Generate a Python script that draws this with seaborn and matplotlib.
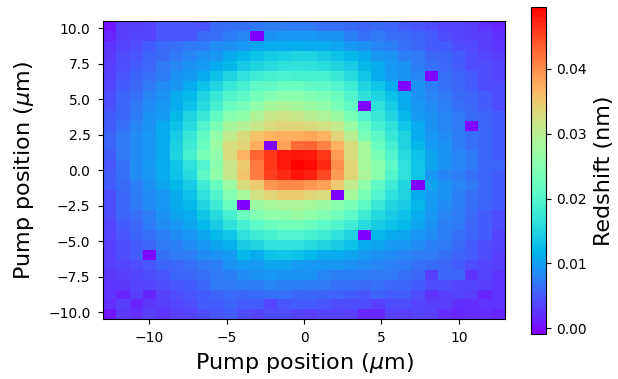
import numpy as np
import matplotlib
matplotlib.use("Agg")
import matplotlib.pyplot as plt
import seaborn as sns

# Scan extent (µm) and grid size
x_range = [-13.0, 13.0]
y_range = [-10.5, 10.5]
n_cols = 30
n_rows = 30

# Redshift per pump position, in pm (1e-3 nm); rows listed from top (y = +10.5) to bottom
redshift_pm = [
    [0.6, 3.1, 3.1, 3.6, 4.7, 4.7, 4.7, 4.5, 6.2, 6.4, 6.4, 7.0, 7.4, 7.4, 7.2, 7.0, 6.4, 6.4, 6.2, 5.7, 6.2, 5.7, 5.2, 4.7, 4.2, 3.6, 3.6, 3.1, 2.3, 1.6],
    [1.6, 3.1, 3.6, 3.6, 4.7, 4.7, 4.7, 6.2, 6.4, 7.2, 8.0, -0.9, 9.0, 9.5, 9.5, 9.5, 9.0, 9.0, 7.4, 6.4, 7.0, 6.4, 6.2, 5.7, 5.2, 4.2, 3.6, 3.1, 3.1, 2.3],
    [2.6, 3.6, 4.2, 5.2, 6.2, 6.4, 7.0, 7.2, 8.4, 9.0, 9.5, 10.5, 11.0, 11.0, 11.2, 11.0, 11.0, 10.5, 9.5, 9.0, 8.0, 7.4, 6.4, 6.0, 5.2, 5.2, 4.2, 3.9, 3.1, 2.6],
    [2.8, 4.2, 4.7, 5.7, 6.2, 7.0, 8.0, 9.0, 9.5, 10.8, 12.0, 13.0, 14.0, 14.3, 14.8, 14.8, 14.0, 13.0, 12.2, 11.0, 9.5, 9.0, 7.4, 7.0, 6.0, 5.7, 5.2, 4.2, 3.6, 3.1],
    [3.1, 4.2, 5.2, 6.0, 7.0, 8.0, 9.0, 9.7, 11.0, 12.2, 13.8, 14.8, 15.8, 16.3, 16.5, 16.3, 16.0, 14.8, 14.0, 12.2, 11.0, 9.5, 9.0, 7.2, 6.4, 6.0, 5.2, 4.2, 4.2, 3.6],
    [3.3, 4.7, 5.7, 6.4, 7.2, 9.0, 9.7, 11.0, 13.0, 14.8, 16.3, 18.0, 18.8, 19.2, 18.8, 18.8, 18.8, 17.3, 15.5, 13.5, 11.0, 9.7, 9.0, 8.0, -0.9, 6.4, 5.7, 5.2, 4.2, 3.6],
    [3.8, 5.2, 6.0, 7.0, 8.4, 9.5, 11.0, 13.0, 14.8, 17.3, 18.8, 20.8, 21.3, 22.3, 22.3, 21.3, 20.8, 19.8, 18.0, 14.8, 13.5, 11.0, -0.9, 9.0, 7.4, 6.4, 6.0, 5.2, 4.2, 4.2],
    [4.2, 5.7, 6.4, 8.0, 9.0, 11.0, 12.2, 14.8, 17.3, 20.0, 20.8, 23.1, 24.6, 25.4, 25.4, 24.6, 23.8, 22.3, 19.8, 16.3, 14.8, 13.0, 11.0, 9.0, 8.0, 7.0, 6.2, 5.7, 5.2, 4.2],
    [4.4, 5.7, 7.0, 8.4, 9.5, 11.0, 13.0, 15.5, 18.8, 22.3, 23.5, 26.1, 28.1, 28.9, 28.1, 27.1, 26.1, 23.8, 21.3, -0.9, 16.3, 14.0, 11.0, 9.5, 8.4, 7.4, 6.4, 6.0, 5.2, 4.2],
    [5.2, 6.0, 7.2, 9.0, 9.7, 12.2, 14.8, 17.3, 21.5, 25.0, 26.0, 28.9, 31.4, 32.0, 31.4, 29.9, 28.9, 27.1, 23.8, 19.8, 17.3, 14.8, 12.2, 9.7, 9.0, 8.0, 7.0, 6.2, 5.7, 5.2],
    [5.2, 6.4, 8.0, 9.0, 11.0, 13.0, 15.5, 19.8, 23.8, 28.1, 29.5, 31.4, 33.2, 34.0, 34.0, 33.2, 32.4, 30.7, 27.1, 22.3, 18.8, 16.3, 13.5, 11.0, 9.0, 8.0, 7.0, -0.9, 5.7, 5.2],
    [5.7, 7.0, 8.4, 9.5, 11.0, 14.0, 17.3, 21.5, 26.1, 30.7, 33.2, 35.7, 37.0, 37.5, 37.5, 38.0, 37.0, 34.0, 29.9, 23.8, 20.8, 17.3, 14.8, 11.0, 9.5, 8.4, 7.2, 6.4, 6.0, 5.2],
    [5.7, 7.0, 8.4, 9.5, 11.0, 14.5, 18.0, 22.3, 27.1, 33.0, 34.0, 37.5, -0.9, 38.5, 42.5, 43.0, 41.0, 37.0, 33.2, 28.1, 22.3, 18.8, 14.8, 12.2, 9.7, 9.0, 7.4, 6.4, 6.0, 5.2],
    [5.2, 7.0, 8.4, 9.5, 11.0, 14.8, 18.8, 23.8, 26.0, 33.2, 37.0, 43.0, 46.0, 48.0, 48.2, 48.0, 46.0, 39.0, 33.2, 28.1, 23.8, 19.8, 15.5, 13.0, 10.5, 9.0, 8.0, 7.0, 6.0, 5.2],
    [4.7, 6.4, 8.4, 9.7, 11.0, 13.5, 16.3, 19.8, 25.4, 31.4, 35.0, 41.5, 46.0, 48.0, 49.6, 49.0, 47.0, 40.0, 34.0, 28.1, 25.4, 20.8, 16.3, 13.5, 10.5, 9.0, 8.0, 7.0, 6.0, 5.7],
    [5.2, 6.4, 8.4, 9.5, 11.0, 13.0, 15.5, 20.8, 26.1, 31.4, 35.5, 41.5, 45.5, 47.0, 48.2, 47.5, 45.0, 39.0, 34.0, 28.9, 25.4, 19.8, 16.3, 13.5, 9.5, 8.0, 7.4, 6.4, 5.7, 5.2],
    [5.2, 6.2, 7.4, 9.0, 10.5, 12.2, 14.0, 18.0, 22.3, 27.1, 33.2, 35.0, 39.5, 40.5, 40.5, 39.5, 38.5, 35.0, 30.7, 26.1, 20.8, 18.0, 14.8, -0.9, 10.5, 9.0, 8.0, 7.0, 6.0, 5.2],
    [4.2, 6.0, 7.2, 8.4, 9.5, 11.0, 13.0, 16.3, 19.8, 24.6, 28.1, 32.4, 34.0, 35.0, 35.0, 34.0, 33.2, -0.9, 28.1, 23.8, 19.8, 16.3, 14.8, 11.0, 9.7, 9.0, 7.4, 6.4, 6.0, 5.2],
    [4.2, 6.0, 7.0, 8.4, 9.5, 11.0, 12.2, 14.8, 18.0, 22.3, -0.9, 27.1, 28.1, 28.9, 28.9, 28.1, 27.1, 25.4, 23.8, 20.8, 17.3, 14.8, 14.0, 12.2, 9.7, 8.4, 7.4, 6.4, 5.7, 5.2],
    [4.2, 5.7, 6.4, 7.4, 9.0, 10.5, 11.0, 13.5, 15.5, 18.8, 22.3, 24.6, 26.1, 26.1, 27.1, 26.1, 24.6, 23.1, 20.8, 18.0, 15.5, 14.0, 13.0, 11.0, 9.5, 8.0, 7.2, 6.2, 5.2, 4.2],
    [3.6, 5.2, 6.0, 7.2, 8.4, 9.5, 10.5, 12.2, 14.0, 16.3, 18.8, 20.8, 22.3, 23.1, 23.1, 22.3, 20.8, 19.8, 18.0, 15.5, 14.0, 13.0, 12.2, 10.5, 9.0, 7.4, 7.0, 6.0, 5.2, 4.2],
    [3.6, 4.7, 5.7, 6.4, 7.4, 8.4, 9.5, 10.5, 12.2, 13.5, 16.3, 18.0, 18.8, 19.8, 19.8, 18.8, 18.0, 16.3, 14.8, -0.9, 12.2, 11.0, 10.5, 9.5, 8.4, 7.4, 6.4, 5.7, 5.2, 3.6],
    [3.1, 4.2, 5.2, 6.0, 7.0, 7.4, 8.4, 9.5, 10.5, 11.5, 14.0, 14.8, 16.3, 16.3, 16.3, 15.5, 14.8, 14.0, 13.0, 11.0, 10.5, 9.7, 9.5, 8.4, 7.4, 7.0, 6.2, 5.2, 4.2, 3.6],
    [3.1, 4.2, 5.2, -0.9, 6.4, 7.0, 7.4, 8.4, 9.0, 9.7, 12.2, 11.0, 13.0, 13.5, 13.0, 12.2, 11.0, 11.0, 10.5, 9.7, 9.0, 8.4, 8.0, 7.4, 7.0, 6.4, 5.7, 5.2, 4.2, 3.1],
    [3.1, 3.6, 4.2, 4.7, 5.7, 6.0, 6.4, 7.0, 7.4, 9.0, 9.7, 9.7, 10.5, 10.5, 9.7, 9.5, 9.5, 9.5, 9.0, 8.4, 8.0, 7.4, 7.2, 6.4, 6.2, 6.0, 5.2, 4.2, 3.6, 3.1],
    [2.8, 3.1, 3.6, 4.2, 4.7, 5.7, 6.0, 6.4, 7.0, 7.4, 8.4, 9.0, 9.5, 9.0, 9.0, 9.0, 8.0, 7.4, 7.4, 7.2, 7.0, 7.0, 6.4, 6.0, 3.1, 6.0, 6.0, 2.3, 3.6, 2.6],
    [2.6, 2.8, 3.3, 3.6, 4.2, 4.7, 5.2, 6.0, 7.0, 7.0, 7.4, 7.2, 8.0, 7.4, 7.4, 7.2, 7.0, 6.4, 6.4, 6.2, 6.4, 6.0, 5.7, 5.2, 4.2, 4.2, 3.6, 3.6, 3.1, 2.6],
    [2.6, 1.6, 3.1, 1.6, 3.3, 4.2, 4.7, 5.2, 5.7, 6.2, 6.0, 6.2, 6.4, 6.4, 6.0, 6.0, 5.7, 5.7, 5.2, 4.7, 5.7, 5.2, 5.2, 4.2, 2.3, 3.1, 3.6, 3.1, 1.6, 2.6],
    [2.1, 3.1, 1.6, 2.8, 3.1, 3.6, 4.2, 5.2, 5.2, 5.7, 5.2, 5.2, 3.6, 4.7, 5.2, 5.2, 4.7, 4.2, 4.2, 4.2, 3.1, 4.2, 4.2, 3.6, 3.1, 3.1, 2.1, 2.1, 2.6, 2.6],
    [0.6, 2.8, 2.1, 3.1, 2.6, 3.1, 3.6, 4.2, 4.7, 5.2, 4.2, 3.6, 4.2, 4.2, 3.6, 3.1, 3.6, 3.6, 3.1, 1.6, 1.6, 3.6, 3.1, 3.6, 3.1, 2.1, 1.6, 2.1, 2.1, 1.6],
]

color_limits_nm = [-0.0009, 0.0496]

x_label = r"Pump position ($\mu$m)"
y_label = r"Pump position ($\mu$m)"
cbar_label = "Redshift (nm)"

sns.set_style("ticks")
plt.rcParams["font.family"] = ["DejaVu Sans"]
plt.rcParams.update({
    "axes.edgecolor": "black",
    "xtick.color": "black",
    "ytick.color": "black",
    "text.color": "black",
    "axes.labelcolor": "black",
    "xtick.major.size": 3.5,
    "ytick.major.size": 3.5,
    "xtick.labelsize": 10,
    "ytick.labelsize": 10,
})

data_nm = np.array(redshift_pm) / 1000.0
x_edges = np.linspace(x_range[0], x_range[1], n_cols + 1)
y_edges = np.linspace(y_range[1], y_range[0], n_rows + 1)

fig = plt.figure(figsize=(6.18, 3.79), dpi=100)
ax = fig.add_axes([0.1662, 0.1575, 0.6515, 0.7863])
cax = fig.add_axes([0.8592, 0.1187, 0.0243, 0.8636])

cmap = sns.color_palette("rainbow", as_cmap=True)
mesh = ax.pcolormesh(x_edges, y_edges, data_nm, cmap=cmap,
                     vmin=color_limits_nm[0], vmax=color_limits_nm[1])
ax.set_xlim(x_range)
ax.set_ylim(y_range)
for s in ax.spines.values():
    s.set_visible(True)
    s.set_linewidth(0.8)
ax.tick_params(axis="y", pad=5.3)
ax.tick_params(axis="x", pad=5.0)
ax.set_xlabel(x_label, fontsize=16, labelpad=4.5)
ax.set_ylabel(y_label, fontsize=16, labelpad=9)

cb = fig.colorbar(mesh, cax=cax)
cb.outline.set_linewidth(0.8)
cb.set_label(cbar_label, fontsize=16, labelpad=5.5)
cb.ax.tick_params(labelsize=10)

fig.savefig("out.png", dpi=100)
